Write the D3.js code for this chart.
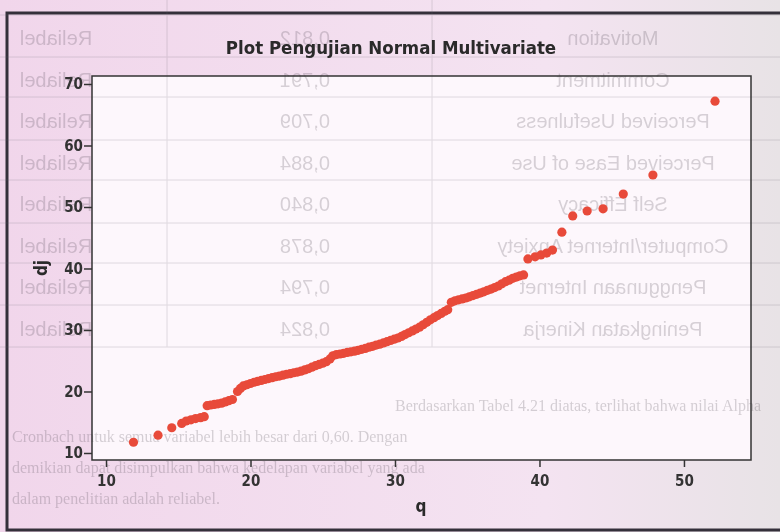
<!DOCTYPE html>
<html>
<head>
<meta charset="utf-8">
<script src="https://cdn.jsdelivr.net/npm/d3@7"></script>
<style>
  body { margin: 0; background: #f3dfee; }
  svg { display: block; }
</style>
</head>
<body>
<div id="main"></div>
<script>
// chi-square quantiles (q) against ordered distances (dj)
const qValues = [
  11.9, 13.6, 14.55, 15.24, 15.55, 15.88, 16.2, 16.55, 16.8,
  17.0, 17.25, 17.5, 17.75, 18.0, 18.25, 18.5, 18.75,
  19.1, 19.3, 19.5, 19.75, 20.0, 20.25, 20.5, 20.75, 21.0, 21.25, 21.5, 21.75,
  22.0, 22.25, 22.5, 22.75, 23.0, 23.25, 23.5, 23.75, 24.0, 24.25, 24.5, 24.75,
  25.0, 25.25, 25.5, 25.7, 25.95, 26.2, 26.45, 26.7, 26.95, 27.2, 27.45, 27.7,
  27.95, 28.2, 28.45, 28.7, 28.95, 29.2, 29.45, 29.7, 29.95, 30.2, 30.45, 30.7,
  30.95, 31.2, 31.45, 31.7, 31.95, 32.2, 32.45, 32.7, 32.95, 33.2, 33.45, 33.65,
  33.9, 34.15, 34.4, 34.65, 34.9, 35.15, 35.4, 35.65, 35.9, 36.15, 36.4, 36.65,
  36.9, 37.15, 37.4, 37.65, 37.9, 38.15, 38.4, 38.65, 38.9,
  39.2, 39.7, 40.1, 40.5, 40.9,
  41.55, 42.3, 43.3, 44.4, 45.8, 47.85, 52.15
];
const djValues = [
  11.75, 12.9, 14.1, 14.8, 15.2, 15.4, 15.6, 15.75, 15.9,
  17.7, 17.8, 17.9, 18.0, 18.1, 18.3, 18.5, 18.7,
  20.0, 20.5, 20.9, 21.1, 21.3, 21.5, 21.65, 21.8, 21.95, 22.1, 22.25, 22.4,
  22.5, 22.65, 22.8, 22.9, 23.05, 23.15, 23.3, 23.5, 23.7, 23.95, 24.2, 24.4,
  24.6, 24.85, 25.3, 25.8, 26.0, 26.1, 26.2, 26.35, 26.45, 26.55, 26.7, 26.85,
  27.0, 27.2, 27.35, 27.55, 27.7, 27.9, 28.1, 28.3, 28.5, 28.7, 28.95, 29.25,
  29.55, 29.85, 30.15, 30.45, 30.85, 31.25, 31.65, 32.0, 32.35, 32.7, 33.05, 33.3,
  34.5, 34.75, 34.9, 35.05, 35.2, 35.4, 35.6, 35.8, 36.0, 36.2, 36.45, 36.65,
  36.9, 37.15, 37.5, 37.85, 38.1, 38.4, 38.6, 38.8, 38.95,
  41.55, 41.9, 42.2, 42.5, 43.0,
  45.9, 48.55, 49.35, 49.7, 52.1, 55.2, 67.2
];
const xTicks = [10, 20, 30, 40, 50];
const yTicks = [10, 20, 30, 40, 50, 60, 70];

// faint text showing through the page (mirrored table + paragraph)
const ghostRows = [
  ["Motivation", "0,812"],
  ["Commitment", "0,791"],
  ["Perceived Usefulness", "0,709"],
  ["Perceived Ease of Use", "0,884"],
  ["Self Efficacy", "0,840"],
  ["Computer/Internet Anxiety", "0,878"],
  ["Penggunaan Internet", "0,794"],
  ["Peningkatan Kinerja", "0,824"]
];
const ghostParagraph = [
  "Berdasarkan Tabel 4.21 diatas, terlihat bahwa nilai Alpha",
  "Cronbach untuk semua variabel lebih besar dari 0,60. Dengan",
  "demikian dapat disimpulkan bahwa kedelapan variabel yang ada",
  "dalam penelitian adalah reliabel."
];

const ctx = {
    w: 780,
    h: 532,
    plotL: 92,
    plotT: 76,
    plotR: 751,
    plotB: 460,
};

const svg = d3.select("#main").append("svg")
    .attr("width", ctx.w)
    .attr("height", ctx.h);

let defs = svg.append("defs");
let grad = defs.append("linearGradient").attr("id", "paper");
grad.append("stop").attr("offset", "0%").attr("stop-color", "#f1d6eb");
grad.append("stop").attr("offset", "70%").attr("stop-color", "#f4e3f1");
grad.append("stop").attr("offset", "100%").attr("stop-color", "#e8e3e6");

svg.append("rect")
    .attr("width", ctx.w).attr("height", ctx.h)
    .attr("fill", "url(#paper)");

// outer chart frame
svg.append("rect")
    .attr("x", 7).attr("y", 13)
    .attr("width", 800).attr("height", 517)
    .attr("fill", "none")
    .attr("stroke", "#34303a")
    .attr("stroke-width", 3);

// plot area
svg.append("rect")
    .attr("x", ctx.plotL).attr("y", ctx.plotT)
    .attr("width", ctx.plotR - ctx.plotL).attr("height", ctx.plotB - ctx.plotT)
    .attr("fill", "#fdf7fc");

// ghost table
let ghost = svg.append("g").attr("id", "ghost").attr("pointer-events", "none")
    .attr("opacity", 0.2);
[15, 57, 97, 140, 180, 223, 263, 305, 347].forEach(y => {
    ghost.append("line").attr("x1", 0).attr("x2", ctx.w)
        .attr("y1", y).attr("y2", y)
        .attr("stroke", "#6d6570").attr("stroke-width", 1);
});
[167, 432].forEach(x => {
    ghost.append("line").attr("x1", x).attr("x2", x)
        .attr("y1", 0).attr("y2", 347)
        .attr("stroke", "#6d6570").attr("stroke-width", 1);
});
ghostRows.forEach((r, i) => {
    let y = 45 + i * 41.5;
    [[613, r[0]], [305, r[1]], [56, "Reliabel"]].forEach(c => {
        ghost.append("text")
            .attr("transform", `translate(${c[0]},${y}) scale(-1,1)`)
            .attr("text-anchor", "middle")
            .style("font-family", "Liberation Sans, Arial, sans-serif")
            .style("font-size", "20px")
            .style("fill", "#3d3640")
            .text(c[1]);
    });
});
ghostParagraph.forEach((t, i) => {
    ghost.append("text")
        .attr("x", i == 0 ? 395 : 12)
        .attr("y", 411 + i * 31)
        .style("font-family", "Liberation Serif, serif")
        .style("font-size", "16px")
        .style("fill", "#2f2a33")
        .text(t);
});

// scales
const x = d3.scaleLinear().domain([9.03, 54.64]).range([ctx.plotL, ctx.plotR]);
const y = d3.scaleLinear().domain([8.86, 71.3]).range([ctx.plotB, ctx.plotT]);

const axisFont = "DejaVu Sans Condensed, DejaVu Sans, sans-serif";

let xAxis = svg.append("g")
    .attr("transform", `translate(0,${ctx.plotB})`)
    .call(d3.axisBottom(x).tickValues(xTicks).tickSize(7).tickSizeOuter(0).tickPadding(8));
let yAxis = svg.append("g")
    .attr("transform", `translate(${ctx.plotL},0)`)
    .call(d3.axisLeft(y).tickValues(yTicks).tickSize(8).tickSizeOuter(0).tickPadding(1));
[xAxis, yAxis].forEach(a => {
    a.select(".domain").remove();
    a.selectAll(".tick line").attr("stroke", "#333").attr("stroke-width", 1.5);
    a.selectAll(".tick text")
        .style("font-family", axisFont)
        .style("font-size", "15px")
        .style("font-weight", "bold")
        .style("fill", "#333");
});

// plot border
svg.append("rect")
    .attr("x", ctx.plotL).attr("y", ctx.plotT)
    .attr("width", ctx.plotR - ctx.plotL).attr("height", ctx.plotB - ctx.plotT)
    .attr("fill", "none")
    .attr("stroke", "#333")
    .attr("stroke-width", 1.5);

// points
const pts = qValues.map((q, i) => ({q: q, dj: djValues[i]}));
svg.append("g").attr("id", "points")
    .selectAll("circle")
    .data(pts)
    .enter()
    .append("circle")
    .attr("cx", d => x(d.q))
    .attr("cy", d => y(d.dj))
    .attr("r", 4.6)
    .attr("fill", "#e84a3a");

// titles
svg.append("text")
    .attr("x", 391).attr("y", 54)
    .attr("text-anchor", "middle")
    .style("font-family", axisFont)
    .style("font-size", "18.5px")
    .style("font-weight", "bold")
    .style("fill", "#2a2a2a")
    .text("Plot Pengujian Normal Multivariate");

svg.append("text")
    .attr("x", 421).attr("y", 512)
    .attr("text-anchor", "middle")
    .style("font-family", axisFont)
    .style("font-size", "17px")
    .style("font-weight", "bold")
    .style("fill", "#2a2a2a")
    .text("q");

svg.append("text")
    .attr("transform", "translate(47,268) rotate(-90)")
    .attr("text-anchor", "middle")
    .style("font-family", axisFont)
    .style("font-size", "17px")
    .style("font-weight", "bold")
    .style("fill", "#2a2a2a")
    .text("dj");
</script>
</body>
</html>
